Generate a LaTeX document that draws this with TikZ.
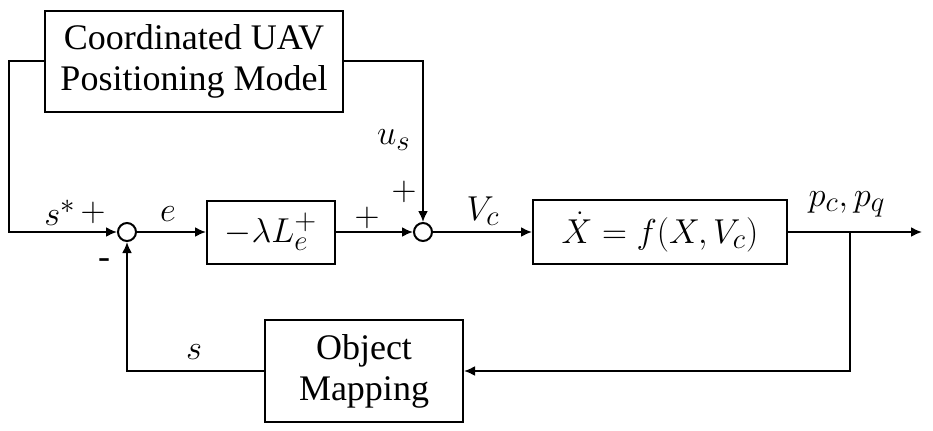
\documentclass[tikz,border=0pt]{standalone}
\usepackage{fontspec}
\setmainfont{Liberation Serif}
\usepackage{amsmath}
\usetikzlibrary{arrows.meta}
\DeclareMathSizes{18}{19}{14.5}{11}

\begin{document}
\begin{tikzpicture}[x=0.5pt,y=-0.5pt,line width=1pt,
    font=\fontsize{18}{19.5}\selectfont,
    >={Latex[length=5.5pt,width=5pt]},
    blk/.style={draw,rectangle,inner sep=0pt,align=center},
    sumpt/.style={draw,circle,fill=white,minimum size=9pt,inner sep=0pt}]
    \useasboundingbox (0,0) rectangle (933,430);
    \node[blk,minimum width=149pt,minimum height=50.5pt] (cupm) at (194,61) {Coordinated UAV\\[1pt]Positioning Model};
    \node[sumpt] (sum1) at (127,232) {};
    \node[blk,minimum width=64pt,minimum height=31.5pt] (gain) at (271,232) {$-\lambda L_e^{+}$};
    \node[sumpt] (sum2) at (423,232) {};
    \node[blk,minimum width=127pt,minimum height=32pt] (plant) at (660,232) {$\dot{X} = f(X,V_c)$};
    \node[blk,minimum width=99pt,minimum height=51pt] (objmap) at (364,371) {Object\\[1pt]Mapping};
    \coordinate (out) at (922,232);
    \coordinate (branch) at (850,232);
    \draw[->] (cupm.west) -- ++(-35,0) |- (sum1.west);
    \draw[->] (cupm.east) -| (sum2.north);
    \draw[->] (sum1) -- (gain);
    \draw[->] (gain) -- (sum2);
    \draw[->] (sum2) -- (plant);
    \draw[->] (plant) -- (out);
    \draw[->] (branch) |- (objmap.east);
    \draw[->] (objmap.west) -| (sum1.south);
    \begin{scope}[inner sep=0pt]
      \node (lsref) at (60,213) {$s^{*}$};
      \node (lplus1) at (93,213) {$+$};
      \node (le) at (168,214) {$e$};
      \node (lplus2) at (367,218) {$+$};
      \node (lplus3) at (404,192) {$+$};
      \node (lus) at (394,140) {$u_s$};
      \node (lvc) at (483,211) {$V_c$};
      \node (lpout) at (847,204) {$p_c, p_q$};
      \node (lminus) at (104,264) {-};
      \node (ls) at (194,352) {$s$};
    \end{scope}
\end{tikzpicture}
\end{document}
